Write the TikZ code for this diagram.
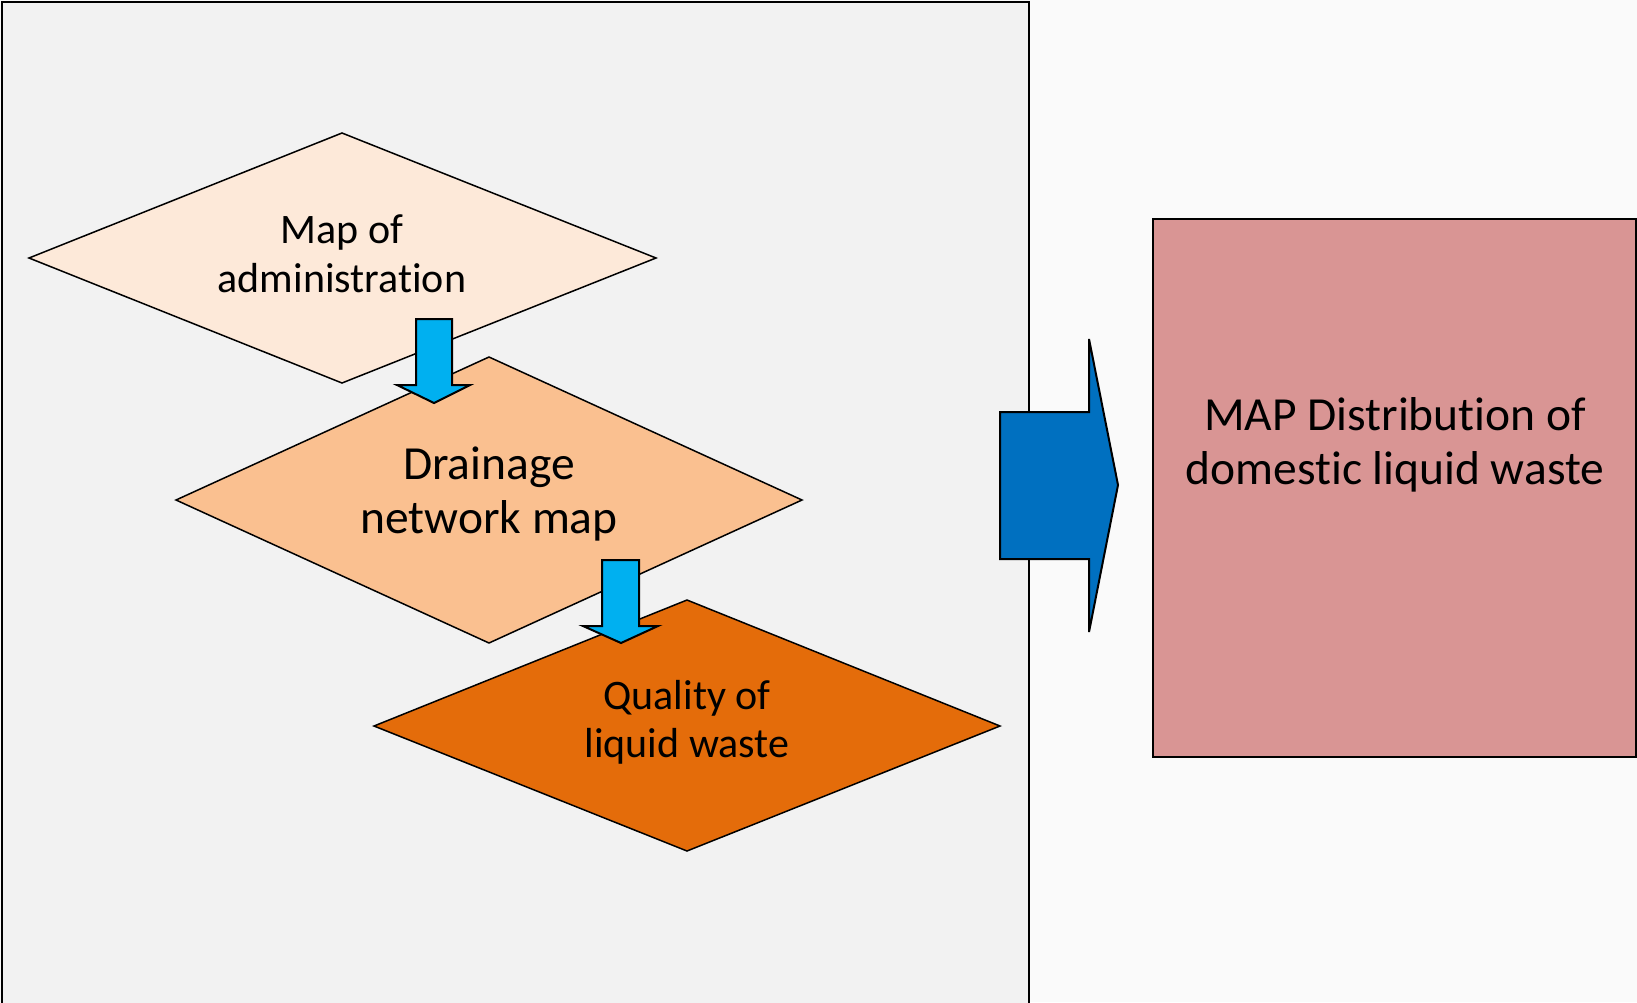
\documentclass[tikz,border=0pt]{standalone}
\usepackage{fontspec}
\setmainfont[Ligatures=NoCommon]{Carlito}
\definecolor{pagebg}{HTML}{FAFAFA}
\definecolor{panelbg}{HTML}{F2F2F2}
\definecolor{dmone}{HTML}{FDE9D9}
\definecolor{dmtwo}{HTML}{FAC090}
\definecolor{dmthree}{HTML}{E46C0A}
\definecolor{resbox}{HTML}{D99594}
\definecolor{smallarrow}{HTML}{00B0F0}
\definecolor{bigarrow}{HTML}{0070C0}
\begin{document}
\begin{tikzpicture}[x=1pt,y=-1pt,
  dmshape/.style={draw=black,line width=1.5pt,line join=miter},
  blockarrow/.style={draw=black,line width=2pt,line join=miter},
  lbl/.style={align=center,inner sep=0pt,text=black}]
\useasboundingbox (0,0) rectangle (1637,1002);
\fill[pagebg] (0,0) rectangle (1637,1002);
% left panel
\draw[fill=panelbg,line width=2.5pt] (2,1010) -- (2,2) -- (1029,2) -- (1029,1010);
% diamonds
\draw[dmshape,fill=dmone] (29,258) -- (342,133) -- (656,258) -- (342,383) -- cycle;
\draw[dmshape,fill=dmtwo] (176,500) -- (489,357) -- (802,500) -- (489,643) -- cycle;
\draw[dmshape,fill=dmthree] (374,726) -- (687,600) -- (1000,726) -- (687,851) -- cycle;
% small arrows
\draw[blockarrow,fill=smallarrow] (416,319) -- (452,319) -- (452,385) -- (470,385) -- (434,403) -- (397,385) -- (416,385) -- cycle;
\draw[blockarrow,fill=smallarrow] (602,560) -- (639,560) -- (639,626) -- (658,626) -- (621,643) -- (583,626) -- (602,626) -- cycle;
% big arrow
\draw[blockarrow,fill=bigarrow] (1000,412) -- (1089,412) -- (1089,339) -- (1118,485) -- (1089,632) -- (1089,559) -- (1000,559) -- cycle;
% result box
\draw[fill=resbox,line width=1.5pt] (1153,219) rectangle (1636,757);
% texts
\node[lbl,font=\fontsize{42}{49}\selectfont] (tone) at (342,254) {Map of\\administration};
\node[lbl,font=\fontsize{47.5}{54}\selectfont] (ttwo) at (489,494) {Drainage\\network map};
\node[lbl,font=\fontsize{42}{48}\selectfont] (tthree) at (687,722) {Quality of\\liquid waste};
\node[lbl,font=\fontsize{47.5}{54}\selectfont] (tres) at (1395,445) {MAP Distribution of\\domestic liquid waste};
\end{tikzpicture}
\end{document}
